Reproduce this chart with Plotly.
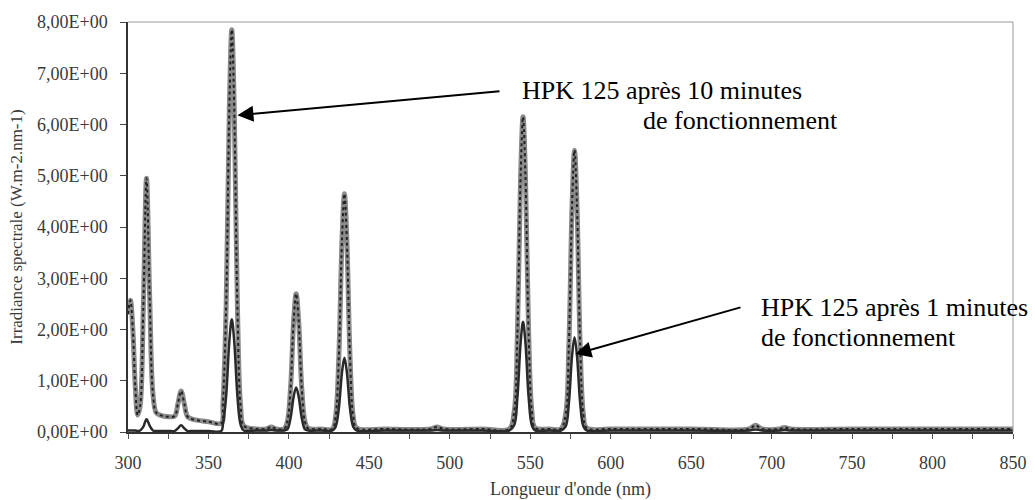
import plotly.graph_objects as go

# Wavelength (nm)
wavelength = [300, 301.5, 303, 304.5, 306, 307.5, 309.5, 311.5, 313.5, 315.5, 317.5, 320,
              325, 329, 331, 333, 335, 337, 340, 350, 358,
              359, 361, 363, 364.5, 366, 368, 370, 372, 380, 386, 389, 392, 397,
              399, 401, 403, 404.5, 406, 408, 410, 412, 420, 427,
              429, 431, 433, 434.5, 436, 438, 440, 442, 460, 488, 492, 496, 520, 537,
              540, 542, 544, 545.5, 547, 549, 551, 553, 562, 569,
              572, 574, 576, 577.5, 579, 581, 583, 585, 600, 650, 686, 690, 694, 705, 708, 712,
              750, 800, 850]

# Spectral irradiance after 10 minutes (W.m-2.nm-1)
irr_10min = [2.3, 2.57, 2.0, 0.9, 0.33, 0.5, 2.4, 4.95, 2.6, 0.75, 0.38, 0.33,
             0.3, 0.31, 0.55, 0.8, 0.55, 0.3, 0.25, 0.2, 0.17,
             0.55, 2.45, 6.35, 7.85, 6.35, 2.45, 0.5, 0.12, 0.06, 0.06, 0.1, 0.06, 0.06,
             0.2, 0.85, 2.2, 2.7, 2.2, 0.85, 0.2, 0.07, 0.06, 0.06,
             0.3, 1.45, 3.75, 4.65, 3.75, 1.45, 0.3, 0.08, 0.06, 0.06, 0.1, 0.06, 0.06, 0.06,
             0.4, 1.9, 5.0, 6.15, 5.0, 1.9, 0.4, 0.08, 0.06, 0.06,
             0.35, 1.7, 4.45, 5.5, 4.45, 1.7, 0.35, 0.08, 0.06, 0.06, 0.06, 0.13, 0.06, 0.06, 0.09, 0.06,
             0.06, 0.06, 0.06]

# Spectral irradiance after 1 minute (W.m-2.nm-1)
irr_1min = [0.03, 0.03, 0.03, 0.03, 0.02, 0.03, 0.1, 0.25, 0.12, 0.03, 0.02, 0.02,
            0.02, 0.02, 0.07, 0.13, 0.07, 0.02, 0.02, 0.02, 0.02,
            0.15, 0.7, 1.78, 2.2, 1.78, 0.7, 0.14, 0.03, 0.03, 0.03, 0.04, 0.03, 0.03,
            0.05, 0.27, 0.7, 0.87, 0.7, 0.27, 0.05, 0.03, 0.03, 0.03,
            0.1, 0.45, 1.17, 1.45, 1.17, 0.45, 0.1, 0.03, 0.03, 0.03, 0.04, 0.03, 0.03, 0.03,
            0.13, 0.67, 1.74, 2.15, 1.74, 0.67, 0.13, 0.03, 0.03, 0.03,
            0.11, 0.57, 1.5, 1.85, 1.5, 0.57, 0.11, 0.03, 0.03, 0.03, 0.03, 0.05, 0.03, 0.03, 0.04, 0.03,
            0.03, 0.03, 0.03]

y_ticks = [0, 1, 2, 3, 4, 5, 6, 7, 8]
y_tick_labels = ["0,00E+00", "1,00E+00", "2,00E+00", "3,00E+00", "4,00E+00",
                 "5,00E+00", "6,00E+00", "7,00E+00", "8,00E+00"]
x_ticks = [300, 350, 400, 450, 500, 550, 600, 650, 700, 750, 800, 850]

# Annotation arrows (tail -> head, data units)
arrow_10min = dict(tail=(531.8, 6.65), head=(368.0, 6.18))
arrow_1min = dict(tail=(681.6, 2.44), head=(578.0, 1.52))

SERIF = "Liberation Serif"
L, R, T, B = 128, 1013, 22, 432

fig = go.Figure()
# 10 minutes: thick grey line with dark dots
fig.add_trace(go.Scatter(x=wavelength, y=irr_10min, mode="lines", line_shape="spline",
                         line=dict(color="#8a8a8a", width=5), showlegend=False, hoverinfo="skip"))
fig.add_trace(go.Scatter(x=wavelength, y=irr_10min, mode="lines", line_shape="spline",
                         line=dict(color="#222222", width=2, dash="dot"), showlegend=False,
                         name="HPK 125 après 10 minutes"))
# 1 minute: solid dark line
fig.add_trace(go.Scatter(x=wavelength, y=irr_1min, mode="lines", line_shape="spline",
                         line=dict(color="#2a2a2a", width=2.5), showlegend=False,
                         name="HPK 125 après 1 minutes"))

fig.update_layout(
    width=1035, height=500,
    margin=dict(l=L, r=1035 - R, t=T, b=500 - B),
    paper_bgcolor="white", plot_bgcolor="white",
    font=dict(family=SERIF, color="#3a3a3a", size=18),
    xaxis=dict(range=[300, 850], tickvals=x_ticks, ticks="outside", ticklen=5,
               tickcolor="#555", showline=True, linecolor="#333", linewidth=1.5,
               mirror=False, showgrid=False, zeroline=False, automargin=False,
               ticklabelstandoff=9,
               minor=dict(dtick=25, ticks="outside", ticklen=5, tickcolor="#555"),
               title=dict(text="Longueur d'onde (nm)", font=dict(family=SERIF, size=18), standoff=12),
               tickfont=dict(family=SERIF, size=18)),
    yaxis=dict(range=[0, 8], tickvals=y_ticks, ticktext=y_tick_labels, ticks="outside",
               ticklen=6, tickcolor="#444", showline=True, linecolor="#333", linewidth=1.5,
               showgrid=False, zeroline=False, automargin=False, ticklabelstandoff=9,
               title=dict(text="Irradiance spectrale (W.m-2.nm-1)", font=dict(family=SERIF, size=17), standoff=10),
               tickfont=dict(family=SERIF, size=18)),
    shapes=[
        dict(type="line", xref="paper", yref="paper", x0=0, x1=1, y0=1, y1=1,
             line=dict(color="#999", width=1)),
        dict(type="line", xref="paper", yref="paper", x0=1, x1=1, y0=0, y1=1,
             line=dict(color="#999", width=1)),
    ],
)

# Arrows
for arr in (arrow_10min, arrow_1min):
    fig.add_annotation(x=arr["head"][0], y=arr["head"][1], ax=arr["tail"][0], ay=arr["tail"][1],
                       axref="x", ayref="y", xref="x", yref="y", text="", showarrow=True,
                       arrowhead=2, arrowsize=1.6, arrowwidth=2, arrowcolor="black")

# Labels
labels = [
    ("HPK 125 après 10 minutes", 520, 90),
    ("de fonctionnement", 641, 120),
    ("HPK 125 après 1 minutes", 759, 307),
    ("de fonctionnement", 759, 337),
]
for txt, px, py in labels:
    fig.add_annotation(text=txt, xref="paper", yref="paper",
                       x=(px - L) / (R - L), y=(B - py) / (B - T),
                       xanchor="left", yanchor="middle", showarrow=False,
                       font=dict(family=SERIF, size=26, color="black"))

fig.write_html("out.html", config={"displayModeBar": False},
               post_script="document.body.style.margin='0';")
